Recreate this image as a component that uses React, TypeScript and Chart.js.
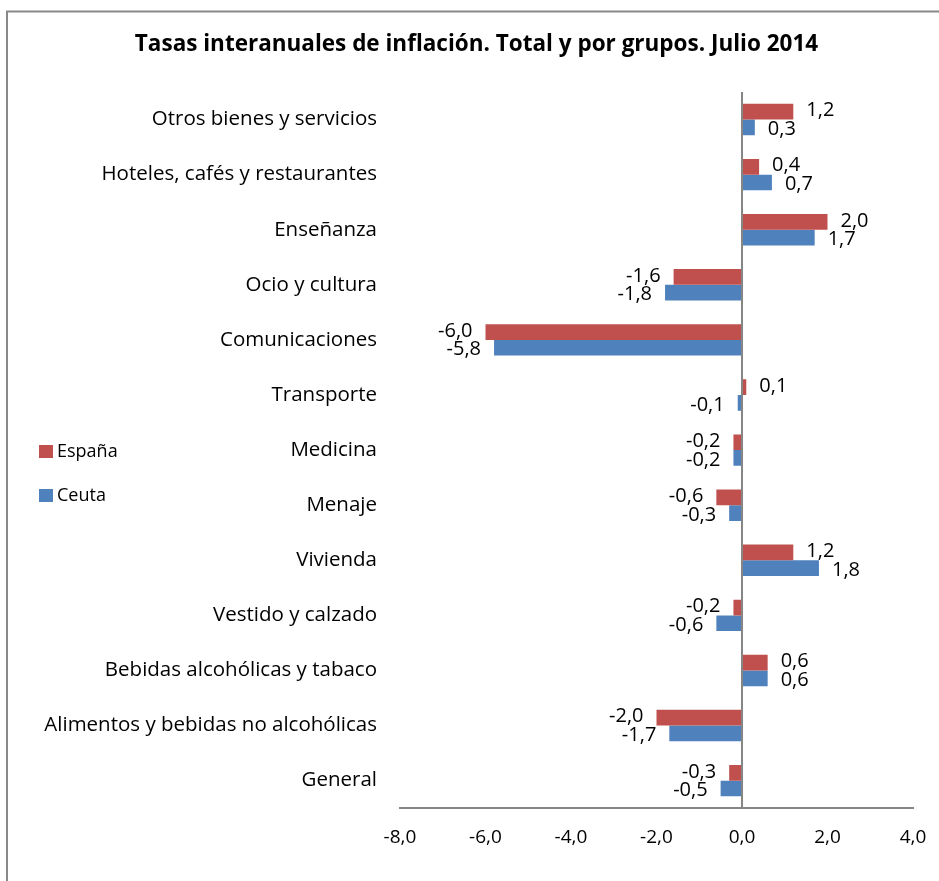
import React, { useEffect, useRef } from "react";
import { Chart, registerables } from "chart.js";

Chart.register(...registerables);

const categories = [
  "Otros bienes y servicios",
  "Hoteles, cafés y restaurantes",
  "Enseñanza",
  "Ocio y cultura",
  "Comunicaciones",
  "Transporte",
  "Medicina",
  "Menaje",
  "Vivienda",
  "Vestido y calzado",
  "Bebidas alcohólicas y tabaco",
  "Alimentos y bebidas no alcohólicas",
  "General",
];
const espana = [1.2, 0.4, 2.0, -1.6, -6.0, 0.1, -0.2, -0.6, 1.2, -0.2, 0.6, -2.0, -0.3];
const ceuta = [0.3, 0.7, 1.7, -1.8, -5.8, -0.1, -0.2, -0.3, 1.8, -0.6, 0.6, -1.7, -0.5];
const seriesNames = ["España", "Ceuta"];
const seriesColors = ["#C0504D", "#4F81BD"];
const titleText = "Tasas interanuales de inflación. Total y por grupos. Julio 2014";
const xMin = -8;
const xMax = 4;
const xStep = 2;

const FONT = "'Open Sans', 'DejaVu Sans', sans-serif";
const fmt = (v: number) => v.toFixed(1).replace(".", ",");

const LEFT_PAD = 40;

const framePlugin = {
  id: "frame",
  beforeDraw(chart: any) {
    const { ctx, width, height } = chart;
    ctx.save();
    ctx.fillStyle = "#ffffff";
    ctx.fillRect(0, 0, width, height);
    ctx.strokeStyle = "#888888";
    ctx.lineWidth = 2;
    ctx.beginPath();
    ctx.moveTo(7, height);
    ctx.lineTo(7, 11.5);
    ctx.lineTo(width, 11.5);
    ctx.stroke();
    ctx.restore();
  },
};

const valueLabelPlugin = {
  id: "valueLabels",
  afterDatasetsDraw(chart: any) {
    const { ctx } = chart;
    ctx.save();
    ctx.font = `20px ${FONT}`;
    ctx.fillStyle = "#000000";
    ctx.textBaseline = "middle";
    chart.data.datasets.forEach((ds: any, di: number) => {
      const meta = chart.getDatasetMeta(di);
      meta.data.forEach((bar: any, i: number) => {
        const v = ds.data[i] as number;
        const txt = fmt(v);
        const dy = di === 0 ? -1 : 2;
        if (v >= 0) {
          ctx.textAlign = "left";
          ctx.fillText(txt, bar.x + 13, bar.y + dy);
        } else {
          ctx.textAlign = "right";
          ctx.fillText(txt, bar.x - 13, bar.y + dy);
        }
      });
    });
    ctx.restore();
  },
};

const customLegendPlugin = {
  id: "customLegend",
  afterDraw(chart: any) {
    const { ctx } = chart;
    ctx.save();
    ctx.font = `18px ${FONT}`;
    ctx.textBaseline = "middle";
    ctx.textAlign = "left";
    chart.data.datasets.forEach((ds: any, di: number) => {
      const cy = 451 + di * 44;
      ctx.fillStyle = ds.backgroundColor;
      ctx.fillRect(39, cy - 6, 14, 13);
      ctx.fillStyle = "#000000";
      ctx.fillText(ds.label, 57, cy + 1);
    });
    ctx.restore();
  },
};

export default function App() {
  const canvasRef = useRef<HTMLCanvasElement | null>(null);

  useEffect(() => {
    if (!canvasRef.current) return;
    const chart = new Chart(canvasRef.current, {
      type: "bar",
      data: {
        labels: categories,
        datasets: [
          {
            label: seriesNames[0],
            data: espana,
            backgroundColor: seriesColors[0],
            categoryPercentage: 0.57,
            barPercentage: 1.0,
          },
          {
            label: seriesNames[1],
            data: ceuta,
            backgroundColor: seriesColors[1],
            categoryPercentage: 0.57,
            barPercentage: 1.0,
          },
        ],
      },
      options: {
        indexAxis: "y",
        responsive: false,
        animation: false,
        layout: { padding: { left: LEFT_PAD, right: 26, top: 0, bottom: 14 } },
        plugins: {
          legend: { display: false },
          tooltip: { enabled: false },
          title: {
            display: true,
            text: titleText,
            color: "#000000",
            font: { family: FONT, size: 22.5, weight: "bold" },
            padding: { top: 31, bottom: 34 },
          },
        },
        scales: {
          x: {
            type: "linear",
            min: xMin,
            max: xMax,
            afterFit: (scale: any) => {
              scale.paddingLeft = 0;
              scale.paddingRight = 0;
            },
            ticks: {
              stepSize: xStep,
              color: "#000000",
              font: { family: FONT, size: 19 },
              padding: 18,
              callback: (v: any) => fmt(Number(v)),
            },
            grid: {
              drawTicks: false,
              color: (c: any) => (c.tick && c.tick.value === 0 ? "#868686" : "rgba(0,0,0,0)"),
              lineWidth: 2,
            },
            border: { display: true, color: "#868686", width: 2 },
          },
          y: {
            type: "category",
            afterFit: (scale: any) => {
              scale.width = 400 - LEFT_PAD;
            },
            ticks: {
              color: "#000000",
              font: { family: FONT, size: 20.5 },
              padding: 23,
            },
            grid: { display: false, drawTicks: false },
            border: { display: false },
          },
        },
      },
      plugins: [framePlugin, valueLabelPlugin, customLegendPlugin],
    } as any);
    return () => chart.destroy();
  }, []);

  return (
    <div style={{ position: "absolute", left: 0, top: 0, width: 939, height: 881 }}>
      <canvas ref={canvasRef} width={939} height={881} />
    </div>
  );
}
